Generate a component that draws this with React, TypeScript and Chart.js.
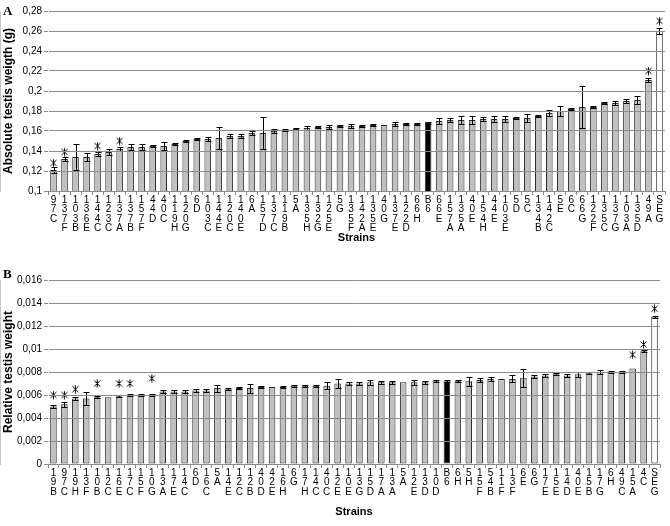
import React, { useEffect, useRef } from 'react';
import { Chart, registerables } from 'chart.js';
Chart.register(...registerables);

// ---------- Panel A data ----------
const strainsA: string[] = [
  '97C', '137F', '103B', '136E', '144C', '123C', '137A', '137B', '157F', '44D',
  '40C', '119H', '120G', '6D', '103C', '144E', '120C', '140E', '6A', '157D',
  '137C', '119B', '5A', '135H', '132G', '125E', '5G', '135F', '142A', '135E',
  '40G', '137E', '122D', '66H', 'B6', '66E', '157A', '135A', '40E', '154H',
  '44E', '103E', '5D', '5C', '134B', '142C', '5E', '6C', '66G', '122F',
  '135C', '137G', '103A', '135D', '49A', 'SEG'
];
const valuesA: number[] = [
  0.121, 0.132, 0.134, 0.134, 0.137, 0.139, 0.142, 0.144, 0.144, 0.145,
  0.145, 0.147, 0.150, 0.152, 0.152, 0.153, 0.155, 0.155, 0.158, 0.158,
  0.160, 0.161, 0.162, 0.163, 0.164, 0.164, 0.165, 0.165, 0.165, 0.166,
  0.166, 0.167, 0.167, 0.167, 0.168, 0.170, 0.171, 0.171, 0.171, 0.172,
  0.172, 0.172, 0.173, 0.173, 0.175, 0.178, 0.180, 0.182, 0.184, 0.184,
  0.188, 0.188, 0.190, 0.191, 0.211, 0.260
];
const errorsA: number[] = [
  0.003, 0.002, 0.013, 0.004, 0.002, 0.003, 0.002, 0.003, 0.003, 0.001,
  0.004, 0.001, 0.001, 0.001, 0.002, 0.011, 0.002, 0.002, 0.002, 0.016,
  0.002, 0.001, 0.001, 0.002, 0.001, 0.002, 0.001, 0.002, 0.001, 0.001,
  0.000, 0.002, 0.001, 0.001, 0.001, 0.003, 0.002, 0.004, 0.004, 0.002,
  0.003, 0.003, 0.001, 0.004, 0.001, 0.003, 0.005, 0.001, 0.021, 0.001,
  0.001, 0.002, 0.002, 0.004, 0.002, 0.003
];
const starsA: (number | null)[] = [
  0.128, 0.139, null, null, 0.145, null, 0.150, null, null, null,
  null, null, null, null, null, null, null, null, null, null,
  null, null, null, null, null, null, null, null, null, null,
  null, null, null, null, null, null, null, null, null, null,
  null, null, null, null, null, null, null, null, null, null,
  null, null, null, null, 0.220, 0.270
];
const yTicksA = { min: 0.1, max: 0.28, step: 0.02 };

// ---------- Panel B data ----------
const strainsB: string[] = [
  '19B', '97C', '19H', '13F', '10B', '12C', '16E', '17C', '15F', '10G',
  '13A', '17E', '14C', '6D', '16C', '5A', '14E', '12C', '12B', '40D',
  '42E', '16H', '6G', '17H', '14C', '40C', '12E', '10E', '13G', '15D',
  '17A', '13A', '5A', '12E', '13D', '10D', 'B6', '6H', '5H', '15F',
  '54B', '11F', '13F', '6E', '6G', '17E', '15E', '14D', '40E', '15B',
  '17G', '6H', '49C', '15A', '4C', 'SEG'
];
const valuesB: number[] = [
  0.0050, 0.0052, 0.0057, 0.0057, 0.0058, 0.0058, 0.0059, 0.0060, 0.0060, 0.0060,
  0.0063, 0.0063, 0.0063, 0.0064, 0.0064, 0.0066, 0.0065, 0.0066, 0.0066, 0.0067,
  0.0067, 0.0067, 0.0068, 0.0068, 0.0068, 0.0068, 0.0070, 0.0070, 0.0070, 0.0071,
  0.0071, 0.0071, 0.0071, 0.0071, 0.0071, 0.0072, 0.0072, 0.0072, 0.0072, 0.0073,
  0.0074, 0.0074, 0.0074, 0.0075, 0.0076, 0.0077, 0.0078, 0.0077, 0.0078, 0.0079,
  0.0080, 0.0080, 0.0080, 0.0083, 0.0098, 0.0128
];
const errorsB: number[] = [
  0.0001, 0.0002, 0.0001, 0.0006, 0.0001, 0.0000, 0.0001, 0.0001, 0.0001, 0.0001,
  0.0001, 0.0001, 0.0001, 0.0001, 0.0001, 0.0003, 0.0001, 0.0001, 0.0004, 0.0001,
  0.0000, 0.0001, 0.0001, 0.0001, 0.0001, 0.0003, 0.0004, 0.0001, 0.0001, 0.0002,
  0.0001, 0.0001, 0.0000, 0.0002, 0.0001, 0.0001, 0.0001, 0.0001, 0.0004, 0.0002,
  0.0002, 0.0000, 0.0003, 0.0008, 0.0001, 0.0001, 0.0001, 0.0001, 0.0002, 0.0001,
  0.0002, 0.0001, 0.0001, 0.0000, 0.0001, 0.0001
];
const starsB: (number | null)[] = [
  0.0060, 0.0060, 0.0065, null, 0.0070, null, 0.0070, 0.0070, null, 0.00745,
  null, null, null, null, null, null, null, null, null, null,
  null, null, null, null, null, null, null, null, null, null,
  null, null, null, null, null, null, null, null, null, null,
  null, null, null, null, null, null, null, null, null, null,
  null, null, null, 0.0095, 0.0104, 0.0135
];
const yTicksB = { min: 0, max: 0.016, step: 0.002 };

// ---------- helpers ----------
const fmt = (v: number) => String(Math.round(v * 1e6) / 1e6).replace('.', ',');

function makeStar(): HTMLCanvasElement {
  const c = document.createElement('canvas');
  c.width = 9;
  c.height = 9;
  const g = c.getContext('2d')!;
  g.strokeStyle = '#000';
  g.lineWidth = 1;
  g.beginPath();
  g.moveTo(1.5, 1.5); g.lineTo(7.5, 7.5);
  g.moveTo(7.5, 1.5); g.lineTo(1.5, 7.5);
  g.moveTo(4.5, 0.5); g.lineTo(4.5, 8.5);
  g.stroke();
  return c;
}

const errorBarPlugin = {
  id: 'errorBars',
  afterDatasetsDraw(chart: any) {
    const ds = chart.data.datasets[0];
    const errs: number[] = ds.errors;
    if (!errs) return;
    const meta = chart.getDatasetMeta(0);
    const y = chart.scales.y;
    const ctx = chart.ctx;
    ctx.save();
    ctx.strokeStyle = '#000';
    ctx.lineWidth = 1;
    meta.data.forEach((el: any, i: number) => {
      const v = ds.data[i];
      const e = errs[i];
      if (!e) return;
      const x = Math.round(el.x) + 0.5;
      const t = Math.round(y.getPixelForValue(v + e)) + 0.5;
      const b = Math.round(y.getPixelForValue(v - e)) + 0.5;
      ctx.beginPath();
      ctx.moveTo(x, t); ctx.lineTo(x, b);
      ctx.moveTo(x - 3, t); ctx.lineTo(x + 3, t);
      ctx.moveTo(x - 3, b); ctx.lineTo(x + 3, b);
      ctx.stroke();
    });
    ctx.restore();
  },
};

function barColor(s: string) {
  if (s === 'B6') return '#000000';
  if (s.startsWith('S')) return '#ffffff';
  return '#c0c0c0';
}

interface PanelProps {
  strains: string[];
  values: number[];
  errors: number[];
  stars: (number | null)[];
  ticks: { min: number; max: number; step: number };
  yTitle: string;
  height: number;
  padTop: number;
  padRight: number;
  xAxisHeight: number;
  xTitlePadBottom: number;
}

function Panel(p: PanelProps) {
  const ref = useRef<HTMLCanvasElement>(null);
  useEffect(() => {
    if (!ref.current) return;
    const star = makeStar();
    const grid = '#8c8c8c';
    const chart = new Chart(ref.current, {
      type: 'bar',
      data: {
        labels: p.strains.map((s) => s.split('')),
        datasets: [
          {
            type: 'bar',
            data: p.values,
            backgroundColor: p.strains.map(barColor),
            borderColor: '#2a2a2a',
            borderWidth: 1,
            borderSkipped: false,
            barPercentage: 0.6,
            categoryPercentage: 1,
            order: 2,
            errors: p.errors,
          } as any,
          {
            type: 'line',
            data: p.stars,
            showLine: false,
            pointStyle: star,
            pointRadius: 4,
            clip: false,
            order: 1,
          } as any,
        ],
      },
      options: {
        responsive: false,
        animation: false,
        events: [],
        layout: { padding: { top: p.padTop, right: p.padRight, left: 0, bottom: 0 } },
        plugins: { legend: { display: false }, tooltip: { enabled: false } },
        scales: {
          x: {
            grid: { offset: true, drawOnChartArea: false, tickLength: 4, color: grid },
            border: { color: grid },
            ticks: {
              autoSkip: false,
              maxRotation: 0,
              minRotation: 0,
              padding: 0,
              color: '#000',
              font: { family: 'Arial, "Liberation Sans"', size: 10, lineHeight: 0.95 },
            },
            title: {
              display: true,
              text: 'Strains',
              color: '#000',
              font: { family: 'Arial, "Liberation Sans"', size: 11, weight: 'bold' },
              padding: { top: 0, bottom: p.xTitlePadBottom },
            },
            afterFit: (s: any) => {
              s.height = p.xAxisHeight;
            },
          },
          y: {
            min: p.ticks.min,
            max: p.ticks.max,
            ticks: {
              stepSize: p.ticks.step,
              callback: (v: any) => fmt(Number(v)),
              color: '#000',
              padding: 2,
              font: { family: 'Arial, "Liberation Sans"', size: 10 },
            },
            grid: { color: grid, tickLength: 4, z: 1 },
            border: { color: grid },
            title: {
              display: true,
              text: p.yTitle,
              color: '#000',
              font: { family: 'Arial, "Liberation Sans"', size: 12, weight: 'bold' },
              padding: { top: 1, bottom: 0 },
            },
            afterFit: (s: any) => {
              s.width = 48;
            },
          },
        },
      } as any,
      plugins: [errorBarPlugin],
    });
    return () => chart.destroy();
  }, []);
  return <canvas ref={ref} width={670} height={p.height} style={{ display: 'block', width: 670, height: p.height }} />;
}

export default function App() {
  const letter: React.CSSProperties = {
    position: 'absolute',
    left: 3,
    fontFamily: '"Times New Roman", "Liberation Serif", serif',
    fontWeight: 'bold',
    fontSize: 13,
    lineHeight: '13px',
  };
  return (
    <div style={{ position: 'absolute', left: 0, top: 0, width: 670, height: 526, background: '#fff' }}>
      <div style={{ position: 'absolute', left: 0, top: 0 }}>
        <Panel
          strains={strainsA}
          values={valuesA}
          errors={errorsA}
          stars={starsA}
          ticks={yTicksA}
          yTitle="Absolute testis weigth (g)"
          height={250}
          padTop={11}
          padRight={1.5}
          xAxisHeight={59}
          xTitlePadBottom={5}
        />
      </div>
      <div style={{ position: 'absolute', left: 0, top: 250 }}>
        <Panel
          strains={strainsB}
          values={valuesB}
          errors={errorsB}
          stars={starsB}
          ticks={yTicksB}
          yTitle="Relative testis weight"
          height={276}
          padTop={30}
          padRight={10}
          xAxisHeight={62}
          xTitlePadBottom={7}
        />
      </div>
      <div style={{ ...letter, top: 4 }}>A</div>
      <div style={{ ...letter, top: 267 }}>B</div>
    </div>
  );
}
